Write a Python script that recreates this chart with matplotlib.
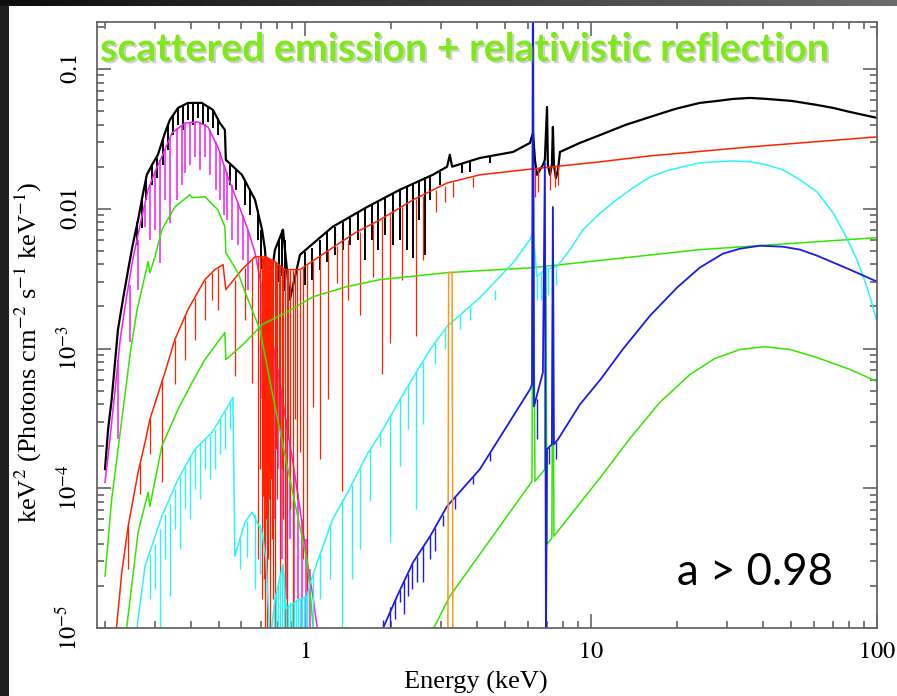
import numpy as np
import matplotlib.pyplot as plt
from matplotlib import patheffects
from matplotlib.patches import Rectangle
from matplotlib.ticker import LogLocator, NullFormatter

# energies in keV, model fluxes in keV^2 (photons cm^-2 s^-1 keV^-1)
below = 8e-6  # anything under the lower axis limit

# total model (black)
black_E = [0.200, 0.205, 0.211, 0.222, 0.231, 0.241, 0.250, 0.261, 0.271, 0.280, 0.292, 0.306,
           0.324, 0.337, 0.360, 0.390, 0.436, 0.477, 0.504, 0.525, 0.529, 0.602, 0.669, 0.708,
           0.725, 0.743, 0.786, 0.838, 0.886, 0.961, 1.25, 1.65, 2.15, 2.80, 3.14, 3.21, 3.27,
           4.09, 5.34, 6.12, 6.27, 6.37, 6.47, 6.63, 6.79, 6.90, 7.02, 7.07, 7.19, 7.30, 7.36,
           7.42, 7.54, 7.67, 7.79, 9.15, 10.8, 13.2, 16.1, 19.7, 24.0, 27.6, 31.4, 36.0, 41.2,
           50.4, 61.7, 70.2, 80.4, 100]
black_F = [1.37e-4, 2.64e-4, 4.32e-4, 1.37e-3, 2.24e-3, 3.67e-3, 5.53e-3, 8.34e-3, 0.0126, 0.0175,
           0.0206, 0.0243, 0.0349, 0.0432, 0.0527, 0.0572, 0.0572, 0.0510, 0.0411, 0.0367, 0.0224,
           0.0175, 0.0116, 0.00708, 0.00510, 0.00235, 0.00510, 0.00708, 0.00224, 0.00469, 0.00743,
           0.0103, 0.0137, 0.0175, 0.0200, 0.0243, 0.0200, 0.0231, 0.0255, 0.0296, 0.0349, 0.0224,
           0.0175, 0.0190, 0.0206, 0.0224, 0.0535, 0.0206, 0.0175, 0.0206, 0.0385, 0.0206, 0.0166,
           0.0190, 0.0255, 0.0296, 0.0338, 0.0398, 0.0454, 0.0518, 0.0572, 0.0591, 0.0611, 0.0621,
           0.0611, 0.0591, 0.0553, 0.0527, 0.0493, 0.0447]

# soft thermal component (magenta)
magenta_E = [0.200, 0.208, 0.217, 0.226, 0.235, 0.250, 0.269, 0.283, 0.299, 0.316, 0.343, 0.381,
             0.423, 0.458, 0.496, 0.538, 0.583, 0.632, 0.669, 0.708, 0.755, 0.798, 0.851, 0.908,
             0.961, 1.02, 1.07, 1.12]
magenta_F = [1.10e-4, 2.24e-4, 5.10e-4, 1.16e-3, 2.00e-3, 4.32e-3, 8.77e-3, 0.0137, 0.0184, 0.0235,
             0.0349, 0.0411, 0.0418, 0.0385, 0.0277, 0.0169, 0.0110, 0.00708, 0.00485, 0.00264,
             1.37e-3, 7.69e-4, 3.38e-4, 1.53e-4, 7.08e-5, 2.96e-5, 1.61e-5, below]

# absorbed power law (red)
red_E = [0.217, 0.229, 0.241, 0.261, 0.276, 0.287, 0.306, 0.324, 0.351, 0.390, 0.447, 0.484,
         0.517, 0.529, 0.602, 0.669, 0.725, 0.786, 0.851, 0.961, 1.22, 1.50, 1.83, 2.39, 3.14,
         4.09, 6.27, 10.8, 16.1, 36.0, 100]
red_F = [below, 2.51e-5, 5.35e-5, 1.30e-4, 2.13e-4, 3.11e-4, 4.69e-4, 6.74e-4, 1.16e-3, 1.90e-3,
         3.11e-3, 3.67e-3, 3.98e-3, 2.64e-3, 3.67e-3, 4.54e-3, 4.54e-3, 4.18e-3, 3.67e-3, 3.67e-3,
         5.10e-3, 6.74e-3, 8.34e-3, 0.0116, 0.0153, 0.0175, 0.0193, 0.0217, 0.0239, 0.0277, 0.0327]

# soft blackbody-like green
green1_E = [0.200, 0.211, 0.226, 0.246, 0.259, 0.283, 0.287, 0.299, 0.316, 0.351, 0.396, 0.403,
            0.447, 0.496, 0.525, 0.529, 0.583, 0.632, 0.696, 0.773, 0.886, 1.02, 1.08]
green1_F = [2.35e-5, 8.34e-5, 2.51e-4, 9.84e-4, 1.90e-3, 4.18e-3, 3.49e-3, 4.54e-3, 7.08e-3, 0.0103,
            0.0126, 0.0120, 0.0122, 9.84e-3, 7.43e-3, 4.85e-3, 3.49e-3, 2.24e-3, 1.37e-3, 4.54e-4,
            1.16e-4, 2.96e-5, below]

# scattered power law (green)
green2_E = [0.235, 0.261, 0.283, 0.287, 0.316, 0.360, 0.403, 0.447, 0.525, 0.529, 0.617, 0.708,
            0.872, 1.07, 1.40, 1.83, 3.14, 6.27, 24.0, 100]
green2_F = [below, 4.85e-5, 9.36e-5, 7.43e-5, 2.00e-4, 3.67e-4, 5.71e-4, 8.34e-4, 1.30e-3, 8.34e-4,
            1.10e-3, 1.48e-3, 1.84e-3, 2.35e-3, 2.77e-3, 3.11e-3, 3.49e-3, 3.79e-3, 5.10e-3, 6.21e-3]

# distant reflection (green)
green3_E = [2.67, 3.21, 6.22, 6.27, 6.37, 6.90, 6.96, 7.02, 7.30, 7.36, 7.42, 10.8, 13.7, 17.4,
            22.2, 27.1, 33.2, 40.6, 49.6, 61.7, 80.4, 100]
green3_F = [below, 1.69e-5, 1.12e-4, 0.0311, 1.12e-4, 1.37e-4, 3.79e-3, 3.98e-5, 4.40e-5, 3.79e-3,
            4.54e-5, 1.20e-4, 2.28e-4, 4.11e-4, 6.52e-4, 8.48e-4, 9.84e-4, 1.03e-3, 9.84e-4,
            8.62e-4, 7.08e-4, 5.81e-4]

# relativistic reflection (cyan)
cyan_E = [0.255, 0.276, 0.316, 0.360, 0.412, 0.473, 0.538, 0.560, 0.569, 0.617, 0.653, 0.708,
          0.731, 0.755, 0.786, 0.838, 0.858, 0.961, 1.02, 1.04, 1.13, 1.25, 1.40, 1.65, 1.83,
          2.15, 2.39, 2.74, 3.14, 4.09, 5.34, 6.12, 6.27, 6.47, 6.90, 7.61, 8.45, 9.38, 10.8,
          12.3, 14.0, 16.1, 18.4, 21.0, 24.0, 27.6, 31.4, 36.0, 41.2, 46.9, 53.8, 61.7, 70.2,
          77.3, 85.1, 90.8, 94.5, 98.4, 100]
cyan_F = [below, 2.77e-5, 6.31e-5, 1.16e-4, 1.90e-4, 2.51e-4, 3.85e-4, 4.47e-4, 3.27e-5, 5.71e-5,
          6.74e-5, 4.85e-5, 3.11e-5, below, 1.61e-5, 2.86e-5, 1.37e-5, 1.61e-5, 1.69e-5, 2.06e-5,
          3.38e-5, 6.01e-5, 9.06e-5, 1.75e-4, 2.43e-4, 4.32e-4, 6.21e-4, 9.84e-4, 1.44e-3,
          2.31e-3, 4.11e-3, 6.01e-3, 6.86e-3, 3.27e-3, 3.67e-3, 3.85e-3, 5.10e-3, 7.08e-3,
          9.36e-3, 0.0116, 0.0141, 0.0169, 0.0187, 0.0200, 0.0213, 0.0217, 0.0220, 0.0217,
          0.0206, 0.0190, 0.0161, 0.0132, 9.36e-3, 6.52e-3, 4.32e-3, 3.01e-3, 2.35e-3, 1.75e-3,
          1.56e-3]

# absorbed reflection (blue)
blue_E = [1.79, 2.10, 2.39, 2.74, 3.14, 4.09, 5.34, 6.12, 6.22, 6.27, 6.32, 6.79, 6.90, 6.96,
          7.02, 7.30, 7.36, 7.42, 7.67, 9.15, 10.8, 12.9, 16.1, 20.0, 24.0, 28.9, 33.2, 39.0,
          46.9, 53.8, 61.7, 80.4, 100]
blue_F = [below, 1.69e-5, 2.96e-5, 4.54e-5, 7.43e-5, 1.37e-4, 3.27e-4, 5.10e-4, 5.53e-4, 1.0,
          3.85e-4, 6.74e-4, 0.0213, below, 1.90e-4, 2.06e-4, 0.0103, 2.06e-4, 2.24e-4, 3.98e-4,
          6.01e-4, 9.84e-4, 1.72e-3, 2.73e-3, 3.79e-3, 4.77e-3, 5.18e-3, 5.44e-3, 5.35e-3,
          5.10e-3, 4.62e-3, 3.67e-3, 3.01e-3]

# narrow line (orange)
orange_E = [3.16, 3.18, 3.27, 3.29]
orange_F = [below, 3.5e-3, 3.5e-3, below]

# absorption lines: (energy, top, bottom)
black_dips = [(0.259, 8.07e-3, 5.53e-3), (0.269, 0.0116, 7.31e-3), (0.278, 0.0161, 0.0116),
              (0.292, 0.0203, 0.0148), (0.304, 0.0231, 0.0166), (0.319, 0.0311, 0.0206),
              (0.332, 0.0398, 0.0264), (0.346, 0.0469, 0.0338), (0.360, 0.0527, 0.0398),
              (0.375, 0.0553, 0.0367), (0.390, 0.0572, 0.0432), (0.406, 0.0572, 0.0398),
              (0.423, 0.0572, 0.0447), (0.440, 0.0572, 0.0398), (0.458, 0.0545, 0.0418),
              (0.477, 0.0510, 0.0379), (0.496, 0.0447, 0.0338), (0.547, 0.0206, 0.0148),
              (0.574, 0.0190, 0.0137), (0.617, 0.0161, 0.0107), (0.642, 0.0137, 0.00906),
              (0.685, 0.00984, 0.00601), (0.700, 0.0071, 0.0037), (0.810, 0.0060, 0.0030),
              (0.830, 0.0070, 0.0033), (0.850, 0.0060, 0.0026),
              (1.00, 0.00493, 0.00287), (1.06, 0.00527, 0.00311), (1.13, 0.00601, 0.00367),
              (1.19, 0.00686, 0.00418), (1.27, 0.00743, 0.00469), (1.36, 0.00807, 0.00510),
              (1.44, 0.00863, 0.00553), (1.53, 0.00952, 0.00601), (1.62, 0.0102, 0.00432),
              (1.72, 0.0107, 0.00601), (1.80, 0.0114, 0.00510), (1.90, 0.0120, 0.00652),
              (2.03, 0.0130, 0.00553), (2.15, 0.0137, 0.00601), (2.27, 0.0146, 0.00510),
              (2.39, 0.0153, 0.00447), (2.50, 0.0161, 0.00834), (2.63, 0.0169, 0.00469),
              (2.74, 0.0175, 0.0116), (2.97, 0.0184, 0.0148), (3.54, 0.0213, 0.0181),
              (3.78, 0.0220, 0.0184), (4.43, 0.0235, 0.0213)]

magenta_dips = [(0.222, 8.34e-4, 2.24e-4), (0.244, 2.87e-3, 1.12e-3), (0.261, 6.01e-3, 2.64e-3),
                (0.276, 0.0107, 7.43e-3), (0.287, 0.0148, 6.01e-3), (0.299, 0.0184, 7.08e-3),
                (0.311, 0.0224, 4.11e-3), (0.324, 0.0264, 0.0116), (0.337, 0.0322, 7.94e-3),
                (0.357, 0.0379, 0.0116), (0.371, 0.0398, 0.0148), (0.381, 0.0411, 0.0181),
                (0.396, 0.0418, 0.0206), (0.412, 0.0418, 0.0235), (0.430, 0.0418, 0.0190),
                (0.447, 0.0405, 0.0235), (0.466, 0.0367, 0.0175), (0.489, 0.0301, 0.0137),
                (0.504, 0.0255, 0.0116), (0.521, 0.0206, 0.00906), (0.534, 0.0184, 0.00834),
                (0.556, 0.0148, 0.00601), (0.583, 0.0110, 0.00553), (0.607, 0.00906, 0.00432),
                (0.632, 0.00708, 0.00264), (0.708, 0.00264, 4.32e-4), (0.731, 0.00190, 1.90e-4),
                (0.755, 1.37e-3, 1.16e-4), (0.779, 9.84e-4, 6.01e-5), (0.805, 7.08e-4, 1.37e-4),
                (0.831, 5.10e-4, 3.11e-5), (0.858, 3.11e-4, 1.61e-5), (0.886, 2.24e-4, 4.32e-5),
                (0.915, 1.37e-4, below), (0.945, 9.06e-5, 1.61e-5), (0.976, 6.01e-5, below),
                (1.01, 4.32e-5, below), (1.04, 2.64e-5, below)]

red_dips = [(0.241, 5.35e-5, 2.64e-5), (0.265, 1.48e-4, 9.06e-5), (0.287, 3.11e-4, 1.75e-4),
            (0.316, 5.81e-4, 1.10e-4), (0.351, 1.16e-3, 5.53e-4), (0.381, 1.72e-3, 8.34e-4),
            (0.412, 2.31e-3, 1.16e-3), (0.447, 3.11e-3, 1.61e-3), (0.473, 3.49e-3, 2.24e-3),
            (0.496, 3.79e-3, 1.90e-3), (0.569, 3.11e-3, 6.31e-4), (0.617, 3.79e-3, 1.61e-3),
            (0.653, 4.32e-3, 5.71e-4), (0.685, 4.54e-3, 3.11e-5), (0.696, 4.54e-3, 1.37e-4),
            (0.708, 4.54e-3, 1.61e-5), (0.713, 4.54e-3, 8.77e-5), (0.719, 4.54e-3, 2.24e-5),
            (0.725, 4.54e-3, below), (0.731, 4.54e-3, 6.01e-5), (0.736, 4.54e-3, below),
            (0.743, 4.47e-3, 3.11e-5), (0.748, 4.47e-3, 8.34e-5), (0.755, 4.40e-3, below),
            (0.760, 4.40e-3, 1.16e-4), (0.767, 4.32e-3, 4.32e-5), (0.773, 4.32e-3, 1.61e-5),
            (0.786, 4.18e-3, below), (0.792, 4.18e-3, 1.90e-4), (0.798, 4.05e-3, 8.34e-5),
            (0.811, 3.98e-3, 2.64e-4), (0.818, 3.92e-3, 1.61e-5), (0.831, 3.85e-3, 1.37e-4),
            (0.838, 3.79e-3, 6.01e-5), (0.851, 3.67e-3, below), (0.865, 3.67e-3, below),
            (0.872, 3.67e-3, 2.24e-4), (0.886, 3.67e-3, 7.08e-5), (0.908, 3.67e-3, below),
            (0.923, 3.67e-3, 3.11e-4), (0.938, 3.67e-3, 8.34e-5), (0.961, 3.67e-3, 1.81e-4),
            (0.984, 3.79e-3, 3.11e-5), (1.02, 3.98e-3, below), (1.07, 4.25e-3, 3.79e-4),
            (1.13, 4.54e-3, 1.61e-4), (1.20, 5.01e-3, 4.32e-4), (1.29, 5.44e-3, 2.96e-3),
            (1.35, 5.71e-3, 9.52e-5), (1.41, 6.01e-3, 2.24e-3), (1.56, 6.86e-3, 1.75e-3),
            (1.73, 7.82e-3, 3.27e-3), (1.86, 8.49e-3, 6.52e-4), (1.98, 9.21e-3, 1.10e-3),
            (2.18, 0.0103, 3.11e-3), (2.44, 0.0118, 1.22e-3), (2.59, 0.0124, 4.32e-3),
            (2.87, 0.0137, 9.52e-3), (3.09, 0.0146, 0.0112), (3.29, 0.0156, 0.0122),
            (3.87, 0.0169, 0.0144), (6.37, 0.0193, 0.0122), (6.53, 0.0196, 0.0132),
            (7.19, 0.0200, 0.0137), (7.48, 0.0203, 0.0144), (7.67, 0.0203, 0.0148)]

cyan_dips = [(0.287, 3.38e-5, 1.61e-5), (0.299, 3.98e-5, 1.90e-5), (0.311, 5.10e-5, below),
             (0.324, 6.52e-5, 3.11e-5), (0.337, 7.69e-5, 1.69e-5), (0.351, 9.84e-5, 5.10e-5),
             (0.366, 1.20e-4, 3.67e-5), (0.381, 1.41e-4, 7.08e-5), (0.396, 1.66e-4, 6.01e-5),
             (0.412, 1.90e-4, 9.84e-5), (0.430, 2.06e-4, 8.34e-5), (0.447, 2.24e-4, 1.37e-4),
             (0.466, 2.39e-4, 1.16e-4), (0.484, 2.64e-4, 1.37e-4), (0.504, 3.11e-4, 1.75e-4),
             (0.525, 3.55e-4, 1.90e-4), (0.547, 4.18e-4, 2.64e-4), (0.593, 4.32e-5, 2.64e-5),
             (0.627, 5.81e-5, 3.22e-5), (0.669, 6.52e-5, 1.90e-5), (0.696, 5.53e-5, 2.43e-5),
             (0.779, 1.48e-5, below), (0.792, 1.75e-5, below), (0.805, 2.06e-5, below),
             (0.818, 2.43e-5, below), (0.831, 2.77e-5, below), (0.845, 2.43e-5, below),
             (0.858, 1.48e-5, below), (0.872, 1.48e-5, below), (0.886, 1.53e-5, below),
             (0.901, 1.53e-5, below), (0.915, 1.53e-5, below), (0.930, 1.61e-5, below),
             (0.945, 1.61e-5, below), (0.961, 1.61e-5, below), (0.976, 1.61e-5, below),
             (0.992, 1.69e-5, below), (1.01, 1.69e-5, below), (1.02, 1.84e-5, below),
             (1.07, 2.43e-5, below), (1.13, 3.38e-5, 1.61e-5), (1.22, 5.53e-5, 2.24e-5),
             (1.35, 8.34e-5, below), (1.46, 1.06e-4, 2.24e-5), (1.56, 1.37e-4, 3.67e-5),
             (1.69, 1.90e-4, 8.07e-5), (1.83, 2.43e-4, 2.00e-4), (1.98, 3.27e-4, 4.11e-5),
             (2.15, 4.32e-4, 1.44e-4), (2.29, 5.35e-4, 2.64e-4), (2.44, 6.74e-4, 7.08e-5),
             (2.59, 8.07e-4, 2.86e-4), (2.85, 1.10e-3, 7.69e-4), (3.09, 1.37e-3, 9.84e-4),
             (3.48, 1.75e-3, 1.37e-3), (3.78, 1.97e-3, 1.61e-3), (4.62, 2.64e-3, 2.24e-3),
             (6.47, 3.27e-3, 2.24e-3), (6.69, 3.55e-3, 2.24e-3), (7.07, 3.79e-3, 2.43e-3),
             (7.30, 3.79e-3, 2.64e-3), (7.54, 3.79e-3, 2.87e-3)]

blue_dips = [(1.87, 1.14e-5, below), (1.98, 1.41e-5, below), (2.06, 1.61e-5, 1.16e-5),
             (2.15, 1.87e-5, 1.53e-5), (2.22, 2.17e-5, 1.26e-5), (2.29, 2.43e-5, 1.69e-5),
             (2.37, 2.86e-5, 1.90e-5), (2.46, 3.22e-5, 2.13e-5), (2.59, 3.85e-5, 2.13e-5),
             (2.74, 4.54e-5, 3.11e-5), (2.85, 5.18e-5, 3.55e-5), (3.04, 6.41e-5, 5.35e-5),
             (3.35, 8.63e-5, 7.08e-5), (3.87, 1.20e-4, 1.07e-4), (4.43, 1.78e-4, 1.56e-4),
             (6.47, 4.32e-4, 2.24e-4), (7.13, 1.96e-4, 1.48e-4), (7.54, 2.13e-4, 1.61e-4)]

y_ticks = [1e-5, 1e-4, 1e-3, 1e-2, 1e-1]
y_labels = [r'$10^{-5}$', r'$10^{-4}$', r'$10^{-3}$', r'$0.01$', r'$0.1$']
x_ticks = [1, 10, 100]
x_labels = [r'$1$', r'$10$', r'$100$']

plt.rcParams['font.family'] = ['Liberation Serif', 'DejaVu Serif']
plt.rcParams['mathtext.fontset'] = 'stix'

fig = plt.figure(figsize=(8.97, 6.96), dpi=100)
fig.patch.set_facecolor('#1e1e1e')

# slide background: dark frame with a white panel
bg = fig.add_axes([0, 0, 1, 1], zorder=-10)
bg.set_axis_off()
bg.imshow(np.linspace(0.05, 0.42, 256)[None, :], cmap='gray', vmin=0, vmax=1,
          extent=[0, 897, 6, 0], aspect='auto')
bg.add_patch(Rectangle((9, 6), 888, 690, facecolor='white', edgecolor='none'))
bg.set_xlim(0, 897)
bg.set_ylim(696, 0)

ax = fig.add_axes([97 / 897, 68 / 696, 780 / 897, 606 / 696])
ax.set_xscale('log')
ax.set_yscale('log')

col_black = 'black'
col_magenta = '#f01ef0'
col_red = '#ff2200'
col_green = '#33e600'
col_cyan = '#2ef5f5'
col_blue = '#1a1aee'
col_orange = '#f79a1e'


def draw_dips(dips, color, lw):
    e, top, bot = zip(*dips)
    ax.vlines(e, bot, top, colors=color, lw=lw)


ax.plot(black_E, black_F, color=col_black, lw=1.6)
draw_dips(black_dips, col_black, 1.4)
ax.plot(magenta_E, magenta_F, color=col_magenta, lw=1.1)
draw_dips(magenta_dips, col_magenta, 1.1)
ax.plot(red_E, red_F, color=col_red, lw=1.1)
draw_dips(red_dips, col_red, 0.9)
ax.plot(green1_E, green1_F, color=col_green, lw=1.1)
ax.plot(green2_E, green2_F, color=col_green, lw=1.1)
ax.plot(green3_E, green3_F, color=col_green, lw=1.1)
ax.plot(cyan_E, cyan_F, color=col_cyan, lw=1.1)
draw_dips(cyan_dips, col_cyan, 1.0)
ax.plot(blue_E, blue_F, color=col_blue, lw=1.3)
draw_dips(blue_dips, col_blue, 1.0)
ax.plot(orange_E, orange_F, color=col_orange, lw=1.1)

ax.set_xlim(0.1875, 100)
ax.set_ylim(1e-5, 0.217)

ax.xaxis.set_major_locator(LogLocator(base=10))
ax.xaxis.set_minor_locator(LogLocator(base=10, subs=np.arange(2, 10)))
ax.xaxis.set_minor_formatter(NullFormatter())
ax.yaxis.set_minor_locator(LogLocator(base=10, subs=np.arange(2, 10)))
ax.yaxis.set_minor_formatter(NullFormatter())
ax.set_xticks(x_ticks)
ax.set_xticklabels(x_labels)
ax.set_yticks(y_ticks)
ax.set_yticklabels(y_labels, rotation=90, va='center')

ax.tick_params(which='both', direction='in', top=True, right=True, color='#555555', width=1.1)
ax.tick_params(which='major', length=10, labelsize=17.5)
ax.tick_params(axis='x', which='major', pad=10)
ax.tick_params(axis='y', which='major', pad=11)
ax.tick_params(which='minor', length=5)
for s in ax.spines.values():
    s.set_color('#666666')
    s.set_linewidth(1.3)

ax.set_xlabel('Energy (keV)', fontsize=19)
ax.xaxis.set_label_coords(0.486, -0.071)
ax.set_ylabel(r'keV$^2$ (Photons cm$^{-2}$ s$^{-1}$ keV$^{-1}$)', fontsize=19)
ax.yaxis.set_label_coords(-0.068, 0.455)

ax.text(0.004, 0.9356, 'scattered emission + relativistic reflection', transform=ax.transAxes,
        fontsize=28.3, fontweight='bold', family=['Lato', 'DejaVu Sans'], color='#7fe817',
        ha='left', va='baseline',
        path_effects=[patheffects.SimplePatchShadow(offset=(1.5, -1.5), shadow_rgbFace='#777777', alpha=0.35),
                      patheffects.Normal()])
ax.text(0.7436, 0.071, 'a > 0.98', transform=ax.transAxes, fontsize=31.5,
        family=['Lato', 'DejaVu Sans'], color='black', ha='left', va='baseline')

fig.savefig('out.png', dpi=100, facecolor=fig.get_facecolor())
